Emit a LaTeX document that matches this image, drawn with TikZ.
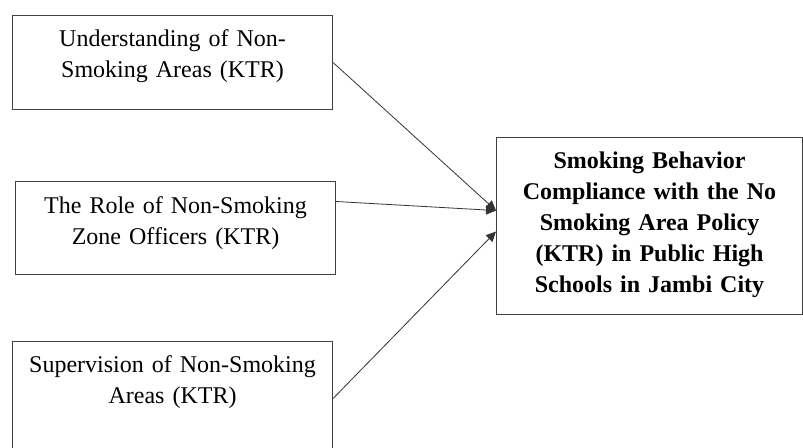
\documentclass[tikz,border=0pt]{standalone}
\usepackage{fontspec}
\setmainfont{Liberation Serif}
\usetikzlibrary{arrows.meta,positioning}

\begin{document}
\begin{tikzpicture}[x=0.75pt,y=-0.75pt,
  varbox/.style={draw=black!75, line width=0.8pt, anchor=north west, text width=232pt, inner xsep=4pt, inner ysep=0pt, align=center, font=\fontsize{18pt}{23.25pt}\selectfont, text height=23.25pt},
  linkarrow/.style={-{Triangle[length=7.5pt,width=7pt]}, line width=0.6pt, black!80}]
  \clip (0,0) rectangle (803,448);

  % Independent variables
  \node[varbox, text depth=47.25pt] (ktr1) at (12,15) {Understanding of Non-\\Smoking Areas (KTR)};
  \node[varbox, text height=24pt, text depth=45.75pt] (ktr2) at (15,181) {The Role of Non-Smoking\\Zone Officers (KTR)};
  \node[varbox, text depth=62.25pt] (ktr3) at (12,341) {Supervision of Non-Smoking\\Areas (KTR)};

  % Dependent variable
  \node[varbox, text width=221.5pt, text depth=109.5pt, font=\fontsize{18pt}{23.25pt}\selectfont\bfseries] (comply) at (496,137) {Smoking Behavior\\Compliance with the No\\Smoking Area Policy\\(KTR) in Public High\\Schools in Jambi City};

  % Arrows
  \draw[linkarrow] (ktr1.east) -- ([yshift=11.6pt]comply.west);
  \draw[linkarrow] ([yshift=19.9pt]ktr2.east) -- ([yshift=11.6pt]comply.west);
  \draw[linkarrow] (ktr3.east) -- ([yshift=-4.1pt]comply.west);
\end{tikzpicture}
\end{document}
